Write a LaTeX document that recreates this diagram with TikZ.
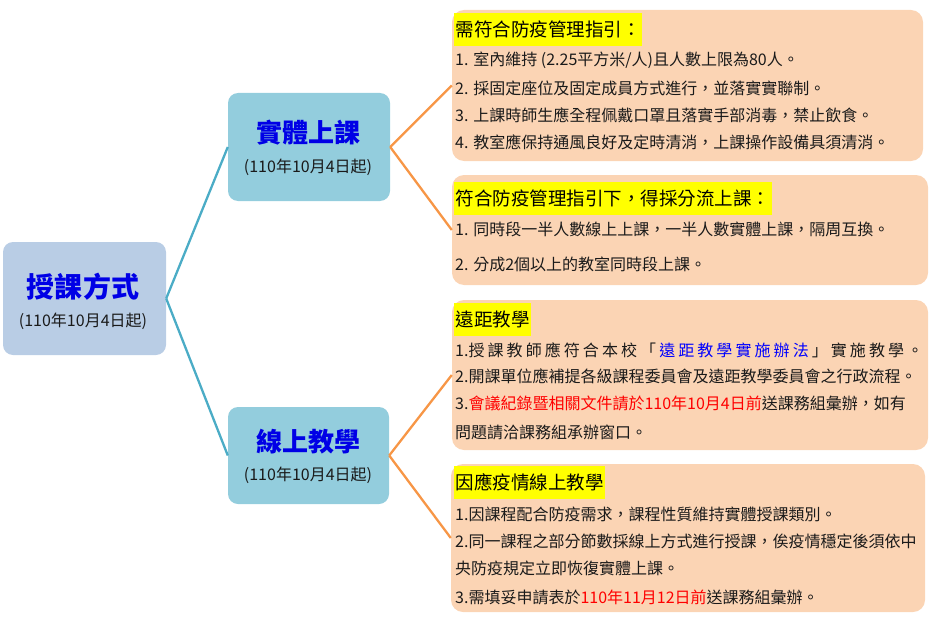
\documentclass[tikz,border=0pt]{standalone}
\usepackage{fontspec}
\setmainfont{Noto Sans CJK TC}
\definecolor{rootblue}{HTML}{B9CDE5}
\definecolor{midblue}{HTML}{93CDDD}
\definecolor{peach}{HTML}{FBD4B4}
\definecolor{lineblue}{HTML}{4BACC6}
\definecolor{lineorange}{HTML}{F79646}
\definecolor{titleblue}{HTML}{0000E6}
\definecolor{textblack}{HTML}{1A1A1A}
\definecolor{hired}{HTML}{FF0000}
\definecolor{hiblue}{HTML}{0000FF}
\definecolor{hiyellow}{HTML}{FFFF00}
\tikzset{
  rootbox/.style={fill=rootblue, rounded corners=10pt, minimum width=163pt, minimum height=113pt, inner sep=0pt},
  midbox/.style={fill=midblue, rounded corners=10pt, inner sep=0pt},
  infobox/.style={fill=peach, rounded corners=12pt, inner sep=0pt},
  ttl/.style={font=\fontsize{26}{28}\selectfont\bfseries, text=titleblue, inner sep=0pt},
  sub/.style={font=\fontsize{16}{18}\selectfont, text=textblack, inner sep=0pt},
  hdr/.style={fill=hiyellow, anchor=west, inner xsep=1.5pt, inner ysep=0pt, minimum height=33pt, font=\fontsize{18.5}{20}\selectfont, text=black},
  body/.style={anchor=west, inner sep=0pt, font=\fontsize{16}{18}\selectfont, text=textblack},
  bline/.style={draw=lineblue, line width=2.3pt},
  oline/.style={draw=lineorange, line width=2.3pt},
}
\begin{document}
\begin{tikzpicture}[x=1pt,y=-1pt]
\useasboundingbox (0,0) rectangle (947,623);
% boxes
\node[rootbox] (root) at (84.5,298.5) {};
\node[midbox, minimum width=162pt, minimum height=108pt] (m1) at (309,147) {};
\node[midbox, minimum width=161pt, minimum height=97pt] (m2) at (308.5,455.5) {};
\node[infobox, minimum width=471pt, minimum height=151pt] (A) at (687.5,85.5) {};
\node[infobox, minimum width=476pt, minimum height=110pt] (B) at (690,230) {};
\node[infobox, minimum width=476pt, minimum height=150pt] (C) at (690,375) {};
\node[infobox, minimum width=474pt, minimum height=148pt] (D) at (688,538) {};
% connectors
\draw[bline] (root.east) -- (m1.west);
\draw[bline] (root.east) -- (m2.west);
\draw[oline] (m1.east) -- (A.west);
\draw[oline] (m1.east) -- (B.west);
\draw[oline] (m2.east) -- (C.west);
\draw[oline] (m2.east) -- (D.west);
% titles
\node[ttl, font=\fontsize{28}{30}\selectfont\bfseries] (rt) at (83,287) {授課方式};
\node[sub] (rs) at (83,321) {(110年10月4日起)};
\node[ttl] (t1) at (308,133) {實體上課};
\node[sub] (s1) at (308,167) {(110年10月4日起)};
\node[ttl] (t2) at (308,442) {線上教學};
\node[sub] (s2) at (308,475) {(110年10月4日起)};
% box A
\node[hdr] (ah) at (454,29.5) {需符合防疫管理指引：};
\node[body] (a1) at (455,60) {1. 室內維持 (2.25平方米/人)且人數上限為80人。};
\node[body] (a2) at (455,88) {2. 採固定座位及固定成員方式進行，並落實實聯制。};
\node[body] (a3) at (455,115) {3. 上課時師生應全程佩戴口罩且落實手部消毒，禁止飲食。};
\node[body] (a4) at (455,142) {4. 教室應保持通風良好及定時清消，上課操作設備具須清消。};
% box B
\node[hdr] (bh) at (454,198) {符合防疫管理指引下，得採分流上課：};
\node[body] (b1) at (455,229) {1. 同時段一半人數線上上課，一半人數實體上課，隔周互換。};
\node[body] (b2) at (455,264) {2. 分成2個以上的教室同時段上課。};
% box C
\node[hdr] (ch) at (454,319) {遠距教學};
\node[body] (c1) at (455,350) {\makebox[468pt][l]{1.授\hfill 課\hfill 教\hfill 師\hfill 應\hfill 符\hfill 合\hfill 本\hfill 校\hfill 「\hfill \textcolor{hiblue}{遠}\hfill \textcolor{hiblue}{距}\hfill \textcolor{hiblue}{教}\hfill \textcolor{hiblue}{學}\hfill \textcolor{hiblue}{實}\hfill \textcolor{hiblue}{施}\hfill \textcolor{hiblue}{辦}\hfill \textcolor{hiblue}{法}\hfill 」\hfill 實\hfill 施\hfill 教\hfill 學\hfill 。}};
\node[body] (c2) at (455,376) {2.開課單位應補提各級課程委員會及遠距教學委員會之行政流程。};
\node[body] (c3) at (455,403) {3.\textcolor{hired}{會議紀錄暨相關文件請於110年10月4日前}送課務組彙辦，如有};
\node[body] (c4) at (455,432) {問題請洽課務組承辦窗口。};
% box D
\node[hdr] (dh) at (454,482) {因應疫情線上教學};
\node[body] (d1) at (455,514) {1.因課程配合防疫需求，課程性質維持實體授課類別。};
\node[body] (d2) at (455,541) {2.同一課程之部分節數採線上方式進行授課，俟疫情穩定後須依中};
\node[body] (d3) at (455,568) {央防疫規定立即恢復實體上課。};
\node[body] (d4) at (455,597) {3.需填妥申請表於\textcolor{hired}{110年11月12日前}送課務組彙辦。};
\end{tikzpicture}
\end{document}
